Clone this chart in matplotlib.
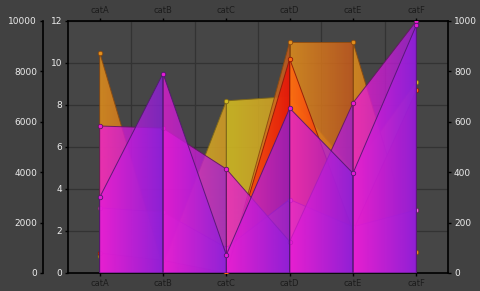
import numpy as np
import matplotlib.pyplot as plt
from matplotlib.colors import to_rgb
from matplotlib.patches import Polygon

categories = ['catA', 'catB', 'catC', 'catD', 'catE', 'catF']

# values read against the inner 0-12 axis
yellow = [0.8, 0.4, 8.2, 8.4, 4.9, 9.1]
orange = [10.5, 0.3, 0.0, 11.0, 11.0, 1.0]
red = [0.95, 0.6, 0.0, 10.2, 2.0, 8.7]
pink = [3.1, 2.9, 1.2, 3.5, 2.2, 3.0]
magenta = [7.0, 6.9, 4.95, 1.5, 8.1, 12.0]
purple = [3.6, 9.5, 0.86, 7.85, 4.75, 11.8]

inner_ticks = [0, 2, 4, 6, 8, 10, 12]
left_ticks = [0, 2000, 4000, 6000, 8000, 10000]
right_ticks = [0, 200, 400, 600, 800, 1000]

# (values, colour at segment start, colour at segment end, line colour, alpha)
series = [
    (yellow, '#d2bc22', '#d09a26', '#806818', 0.9),
    (orange, '#e3901c', '#c85a1c', '#8a4a10', 0.85),
    (red, '#ff6a10', '#e81208', '#901808', 0.88),
    (pink, '#f070d8', '#b050d8', '#802070', 0.45),
    (magenta, '#f01cd2', '#a01ed6', '#601860', 0.8),
    (purple, '#e41cd6', '#8a20dc', '#501870', 0.78),
]

bg = '#414141'
txt = '#ececec'
px = 0.72  # points per pixel at dpi 100

fig = plt.figure(figsize=(4.8, 2.91), dpi=100, facecolor=bg)
ax = fig.add_axes([68 / 480, 18 / 291, 380 / 480, 252 / 291])
ax.set_facecolor('#464646')

x = np.arange(len(categories))
z = 2
for vals, c0, c1, lc, a in series:
    r0, r1 = np.array(to_rgb(c0)), np.array(to_rgb(c1))
    t = np.linspace(0, 1, 64)[:, None]
    grad = np.zeros((1, 64, 4))
    grad[0, :, :3] = r0 * (1 - t) + r1 * t
    grad[0, :, 3] = a
    for i in range(len(x) - 1):
        verts = [(x[i], 0), (x[i], vals[i]), (x[i + 1], vals[i + 1]), (x[i + 1], 0)]
        im = ax.imshow(grad, extent=(x[i], x[i + 1], 0, 12), aspect='auto',
                       interpolation='bilinear', zorder=z)
        clip = Polygon(verts, closed=True, transform=ax.transData)
        im.set_clip_path(clip)
        ax.add_patch(Polygon(verts, closed=True, fill=False, edgecolor=lc,
                             lw=0.7, alpha=0.9, zorder=z + 0.5))
    ax.plot(x, vals, 'o', ms=3.2, mfc=c0, mec=lc, mew=0.6, zorder=z + 0.6)
    z += 1

ax.set_xlim(-0.5, 5.5)
ax.set_ylim(0, 12)
ax.set_xticks(x)
ax.set_xticklabels(categories)
ax.set_xticks(x[:-1] + 0.5, minor=True)
ax.set_yticks(inner_ticks)
ax.grid(which='minor', axis='x', color='#333333', lw=0.9, zorder=0)
ax.grid(which='major', axis='y', color='#333333', lw=0.9, zorder=0)
ax.set_axisbelow(True)
ax.tick_params(axis='x', which='major', top=True, labeltop=True, bottom=True,
               labelbottom=True, length=3 * px, width=1, color='black',
               labelsize=6, labelcolor='#1c1c1c', pad=3 * px)
ax.tick_params(axis='x', which='minor', length=0)
ax.tick_params(axis='y', length=3 * px, width=1, color='black', labelsize=6.5,
               labelcolor=txt, pad=3 * px)
for s in ['left', 'top', 'bottom']:
    ax.spines[s].set_color('black')
    ax.spines[s].set_linewidth(1.2)
ax.spines['right'].set_visible(False)

axL = ax.twinx()
axL.set_ylim(0, 10000)
axL.set_yticks(left_ticks)
axL.yaxis.tick_left()
axL.spines['left'].set_position(('outward', 25 * px))
axL.spines['left'].set_color('black')
axL.spines['left'].set_linewidth(1.2)
for s in ['right', 'top', 'bottom']:
    axL.spines[s].set_visible(False)
axL.tick_params(axis='y', length=3 * px, width=1, color='black', labelsize=6.5,
                labelcolor=txt, pad=3 * px)

axR = ax.twinx()
axR.set_ylim(0, 1000)
axR.set_yticks(right_ticks)
for s in ['left', 'top', 'bottom']:
    axR.spines[s].set_visible(False)
axR.spines['right'].set_color('black')
axR.spines['right'].set_linewidth(1.2)
axR.tick_params(axis='y', length=3 * px, width=1, color='black', labelsize=6.5,
                labelcolor=txt, pad=3 * px)

fig.savefig('out.png', dpi=100, facecolor=bg)
